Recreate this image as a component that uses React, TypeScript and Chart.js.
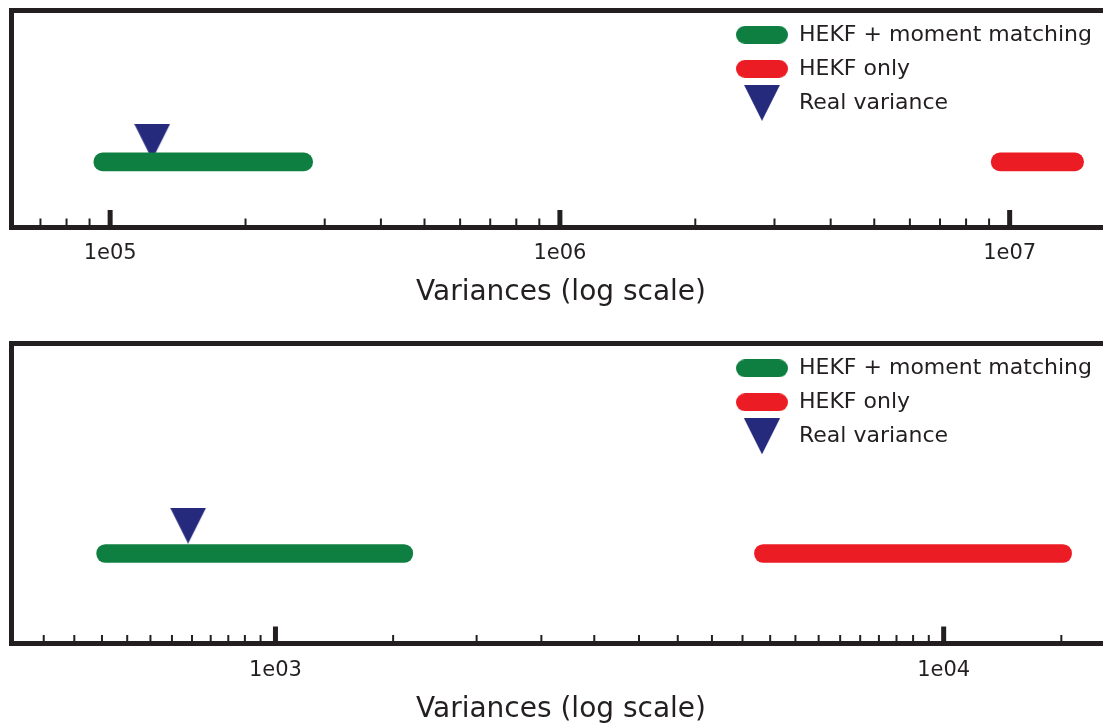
import React, { useEffect, useRef } from 'react';
import { Chart, registerables } from 'chart.js';

Chart.register(...registerables);
Chart.defaults.font.family = "'DejaVu Sans', sans-serif";

// ---------- data ----------
const SERIES_LABELS = ['HEKF + moment matching', 'HEKF only', 'Real variance'];
const X_TITLE = 'Variances (log scale)';

// panel 1 (upper)
const TOP_GREEN_RANGE = [9.2e4, 2.82e5];
const TOP_RED_RANGE = [9.1e6, 1.46e7];
const TOP_REAL_VARIANCE = [1.24e5];
const TOP_MAJOR_TICKS = [1e5, 1e6, 1e7];
const TOP_TICK_LABELS = ['1e05', '1e06', '1e07'];
const TOP_MINOR_TICKS = [7e4, 8e4, 9e4, 2e5, 3e5, 4e5, 5e5, 6e5, 7e5, 8e5, 9e5, 2e6, 3e6, 4e6, 5e6, 6e6, 7e6, 8e6, 9e6];
const TOP_X_LIMITS = [6.02e4, 1.68e7];

// panel 2 (lower)
const BOTTOM_GREEN_RANGE = [540, 1605];
const BOTTOM_RED_RANGE = [5210, 15540];
const BOTTOM_REAL_VARIANCE = [740];
const BOTTOM_MAJOR_TICKS = [1e3, 1e4];
const BOTTOM_TICK_LABELS = ['1e03', '1e04'];
const BOTTOM_MINOR_TICKS = [450, 500, 550, 600, 650, 700, 750, 800, 850, 900, 950, 1500, 2000, 2500, 3000, 3500, 4000, 4500, 5000, 5500, 6000, 6500, 7000, 7500, 8000, 8500, 9000, 9500, 15000];
const BOTTOM_X_LIMITS = [402, 17800];

// y values of the marks (one row)
const BAR_ROW_Y = 0.3;
const MARKER_Y = 0.393;

const COLORS = { green: '#0e7f41', red: '#ec1c24', navy: '#252a7c', ink: '#231f20' };

// ---------- helpers ----------
function pillImage(color: string, w = 52, h = 18) {
  const c = document.createElement('canvas');
  c.width = w; c.height = h;
  const ctx = c.getContext('2d')!;
  const r = h / 2;
  ctx.fillStyle = color;
  ctx.beginPath();
  ctx.moveTo(r, 0);
  ctx.lineTo(w - r, 0);
  ctx.arc(w - r, r, r, -Math.PI / 2, Math.PI / 2);
  ctx.lineTo(r, h);
  ctx.arc(r, r, r, Math.PI / 2, Math.PI * 1.5);
  ctx.closePath();
  ctx.fill();
  return c;
}

function triangleImage(color: string, w = 36, h = 36) {
  const c = document.createElement('canvas');
  c.width = w; c.height = h;
  const ctx = c.getContext('2d')!;
  ctx.fillStyle = color;
  ctx.beginPath();
  ctx.moveTo(0, 0);
  ctx.lineTo(w, 0);
  ctx.lineTo(w / 2, h);
  ctx.closePath();
  ctx.fill();
  return c;
}

const inwardTicks = {
  id: 'inwardTicks',
  afterDraw(chart: any, _args: any, opts: any) {
    const scale = chart.scales.x;
    const { ctx, chartArea } = chart;
    ctx.save();
    ctx.strokeStyle = opts.color;
    ctx.lineCap = 'butt';
    scale.ticks.forEach((t: any) => {
      const px = scale.getPixelForValue(t.value);
      if (px < chartArea.left + 2 || px > chartArea.right - 2) return;
      const isMajor = opts.majors.includes(t.value);
      ctx.lineWidth = isMajor ? opts.majorWidth : opts.minorWidth;
      ctx.beginPath();
      ctx.moveTo(px, chartArea.bottom);
      ctx.lineTo(px, chartArea.bottom - (isMajor ? opts.majorLength : opts.minorLength));
      ctx.stroke();
    });
    ctx.restore();
  },
};

const legendPlacer = {
  id: 'legendPlacer',
  afterLayout(chart: any, _args: any, opts: any) {
    const lg = chart.legend;
    if (!lg) return;
    lg.left = opts.left;
    lg.top = chart.chartArea.top + opts.dy;
    lg.right = lg.left + opts.width;
    lg.bottom = lg.top + opts.height;
  },
};

type PanelProps = {
  top: number;
  height: number;
  padTop: number;
  padBottom: number;
  green: number[];
  red: number[];
  real: number[];
  majors: number[];
  labels: string[];
  minors: number[];
  limits: number[];
};

function Panel(p: PanelProps) {
  const ref = useRef<HTMLCanvasElement>(null);
  useEffect(() => {
    const triangle = triangleImage(COLORS.navy);
    const images = [pillImage(COLORS.green), pillImage(COLORS.red), triangle];
    const tickValues = [...p.majors, ...p.minors].sort((a, b) => a - b);
    const borderOpts = { display: true, width: 5, color: COLORS.ink };
    const chart = new Chart(ref.current!, {
      type: 'bar',
      data: {
        datasets: [
          {
            type: 'bar',
            label: SERIES_LABELS[0],
            data: [{ x: p.green, y: BAR_ROW_Y }] as any,
            backgroundColor: COLORS.green,
            borderWidth: 0,
            borderRadius: 9,
            borderSkipped: false,
            grouped: false,
            barThickness: 18,
            maxBarThickness: 18,
          } as any,
          {
            type: 'bar',
            label: SERIES_LABELS[1],
            data: [{ x: p.red, y: BAR_ROW_Y }] as any,
            backgroundColor: COLORS.red,
            borderWidth: 0,
            borderRadius: 9,
            borderSkipped: false,
            grouped: false,
            barThickness: 18,
            maxBarThickness: 18,
          } as any,
          {
            type: 'scatter',
            label: SERIES_LABELS[2],
            data: p.real.map((v) => ({ x: v, y: MARKER_Y })),
            pointStyle: triangle,
            pointRadius: 18,
            pointHoverRadius: 18,
            backgroundColor: COLORS.navy,
            borderWidth: 0,
            showLine: false,
          } as any,
        ],
      },
      options: {
        indexAxis: 'y',
        responsive: false,
        maintainAspectRatio: false,
        devicePixelRatio: 1,
        animation: false,
        events: [],
        layout: {
          autoPadding: false,
          padding: { left: 11, right: 14, top: p.padTop, bottom: p.padBottom },
        },
        scales: {
          x: {
            type: 'logarithmic',
            position: 'bottom',
            min: p.limits[0],
            max: p.limits[1],
            offset: false,
            grid: { display: false, drawTicks: false },
            border: borderOpts,
            afterBuildTicks: (scale: any) => {
              scale.ticks = tickValues.map((v) => ({ value: v, major: p.majors.includes(v) }));
            },
            ticks: {
              autoSkip: false,
              maxRotation: 0,
              minRotation: 0,
              padding: 14,
              color: COLORS.ink,
              font: { size: 21 },
              callback: (value: any) => {
                const i = p.majors.indexOf(Number(value));
                return i >= 0 ? p.labels[i] : '';
              },
            },
            title: {
              display: true,
              text: X_TITLE,
              color: COLORS.ink,
              font: { size: 28 },
              padding: { top: -4, bottom: 0 },
            },
          },
          xTop: {
            type: 'logarithmic',
            position: 'top',
            min: p.limits[0],
            max: p.limits[1],
            offset: false,
            grid: { display: false, drawTicks: false },
            border: borderOpts,
            ticks: { display: false },
          },
          y: {
            type: 'linear',
            position: 'left',
            min: 0,
            max: 1,
            offset: false,
            grid: { display: false, drawTicks: false },
            border: borderOpts,
            ticks: { display: false },
          },
        } as any,
        plugins: {
          tooltip: { enabled: false },
          legend: {
            position: 'chartArea' as any,
            align: 'start',
            onClick: () => {},
            labels: {
              usePointStyle: true,
              pointStyleWidth: 52,
              padding: 12,
              color: COLORS.ink,
              font: { size: 22 },
              generateLabels: (chart: any) =>
                chart.data.datasets.map((ds: any, i: number) => ({
                  text: ds.label,
                  pointStyle: images[i],
                  fillStyle: 'transparent',
                  strokeStyle: 'transparent',
                  lineWidth: 0,
                  hidden: false,
                  datasetIndex: i,
                  fontColor: COLORS.ink,
                })),
            },
          },
          inwardTicks: {
            color: COLORS.ink,
            majors: p.majors,
            majorLength: 17,
            minorLength: 8.5,
            majorWidth: 5,
            minorWidth: 2,
          },
          legendPlacer: { left: 724, dy: 1.8, width: 380, height: 150 },
        } as any,
      },
      plugins: [inwardTicks, legendPlacer],
    });
    return () => chart.destroy();
  }, []);

  return (
    <canvas
      ref={ref}
      width={1125}
      height={p.height}
      style={{ position: 'absolute', left: 0, top: p.top, width: 1125, height: p.height }}
    />
  );
}

export default function App() {
  return (
    <div
      style={{
        position: 'absolute',
        left: 0,
        top: 0,
        width: 1103,
        height: 727,
        overflow: 'hidden',
        background: '#ffffff',
      }}
    >
      <Panel
        top={0}
        height={320}
        padTop={10}
        padBottom={10.2}
        green={TOP_GREEN_RANGE}
        red={TOP_RED_RANGE}
        real={TOP_REAL_VARIANCE}
        majors={TOP_MAJOR_TICKS}
        labels={TOP_TICK_LABELS}
        minors={TOP_MINOR_TICKS}
        limits={TOP_X_LIMITS}
      />
      <Panel
        top={320}
        height={407}
        padTop={23.5}
        padBottom={0.7}
        green={BOTTOM_GREEN_RANGE}
        red={BOTTOM_RED_RANGE}
        real={BOTTOM_REAL_VARIANCE}
        majors={BOTTOM_MAJOR_TICKS}
        labels={BOTTOM_TICK_LABELS}
        minors={BOTTOM_MINOR_TICKS}
        limits={BOTTOM_X_LIMITS}
      />
    </div>
  );
}
